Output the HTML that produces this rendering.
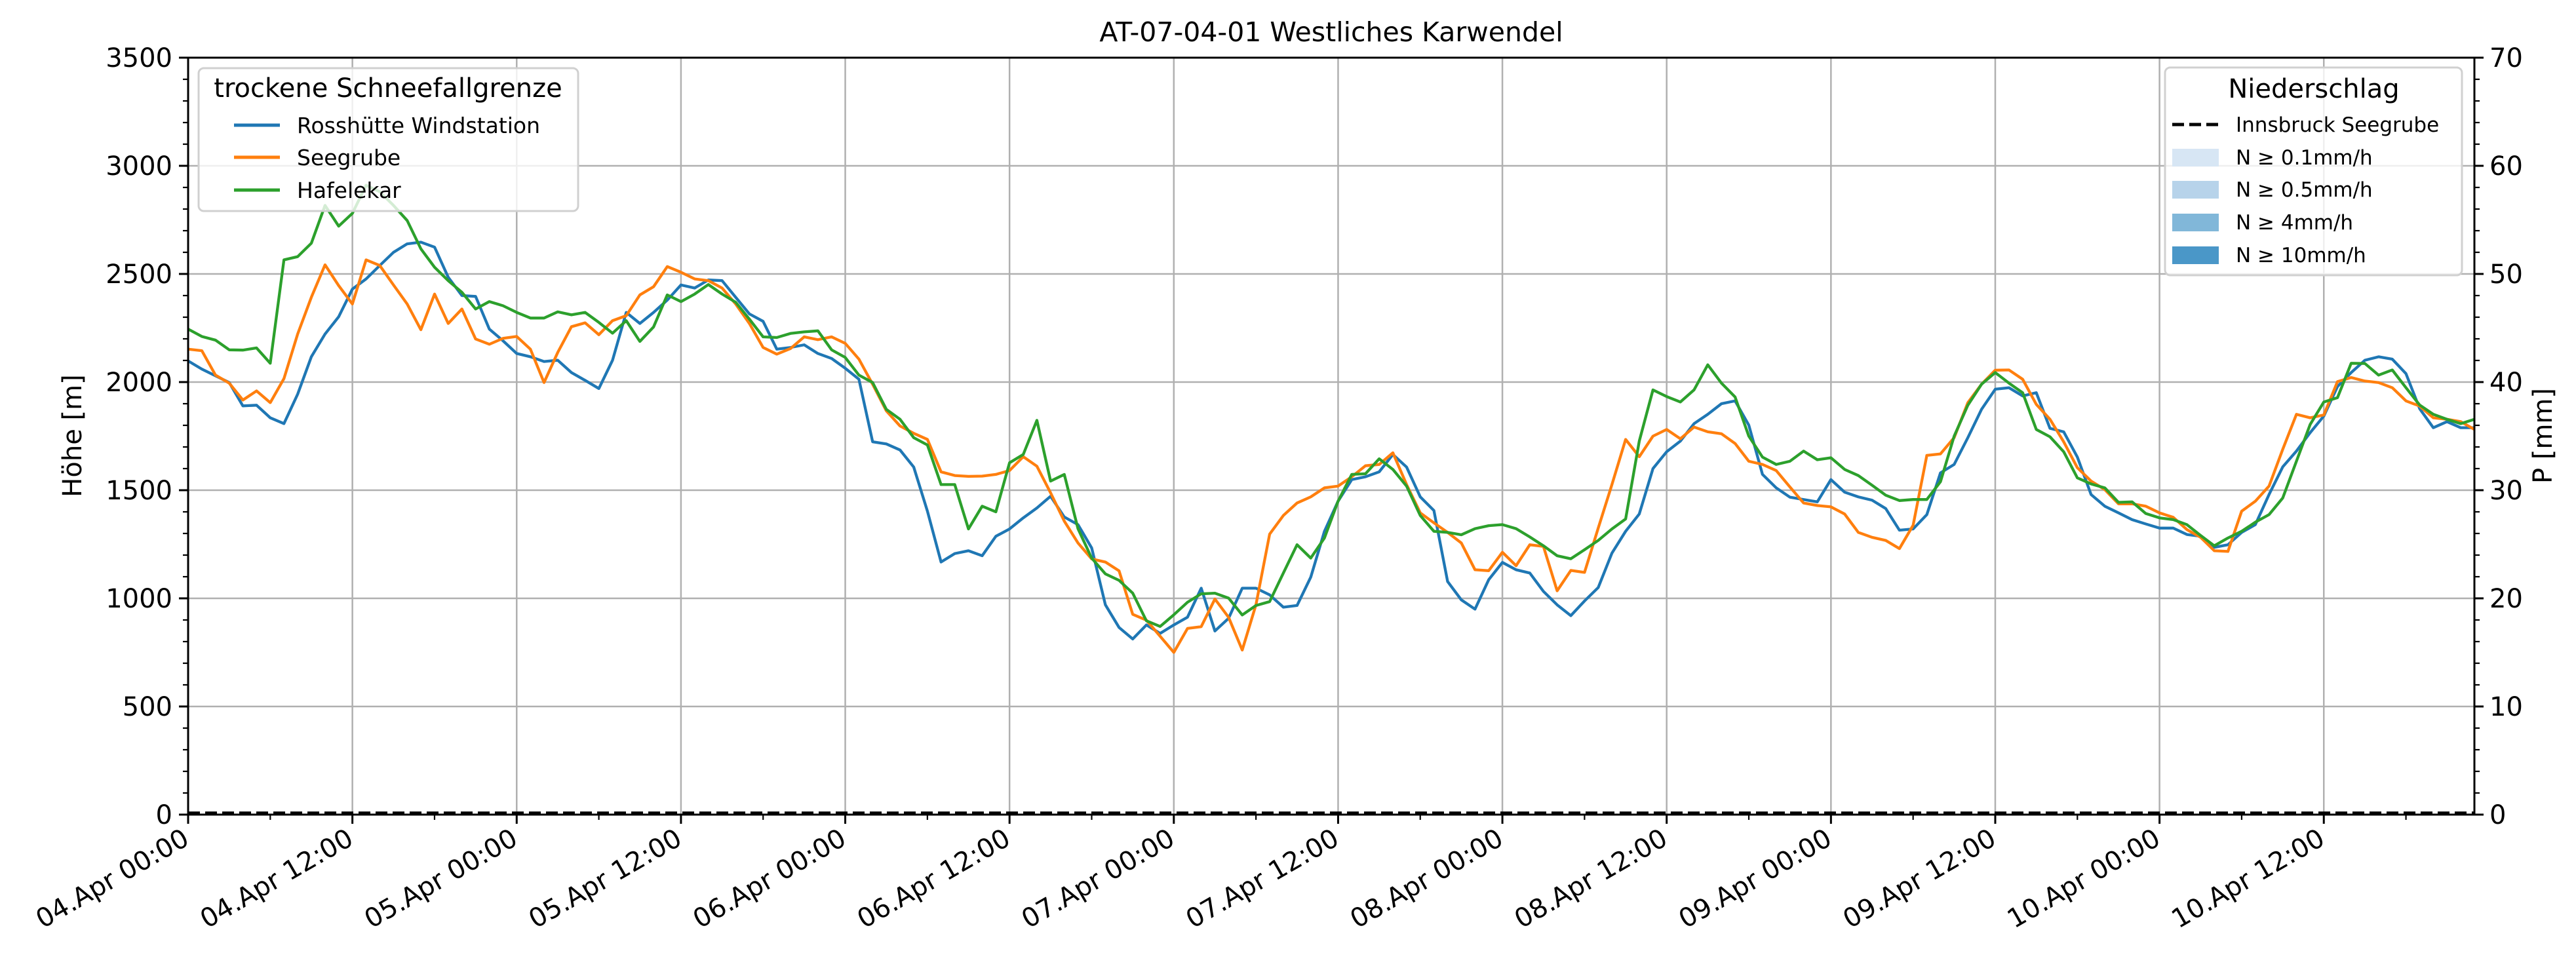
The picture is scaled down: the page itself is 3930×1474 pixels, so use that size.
<!DOCTYPE html>
<html><head><meta charset="utf-8"><style>
html,body{margin:0;padding:0;background:#fff;}
svg{display:block;font-family:"DejaVu Sans","Liberation Sans",sans-serif;}
</style></head><body>
<svg id="chart" width="3930" height="1474" viewBox="0 0 3930 1474" xmlns="http://www.w3.org/2000/svg">
<rect width="3930" height="1474" fill="#fff"/>
<g id="grid"></g>
<g id="series"></g>
<g id="axes"></g>
<text x="2031" y="63" font-size="41" text-anchor="middle">AT-07-04-01 Westliches Karwendel</text>
<text transform="translate(124,665) rotate(-90)" font-size="40" text-anchor="middle">Höhe [m]</text>
<text transform="translate(3893,665) rotate(-90)" font-size="40" text-anchor="middle">P [mm]</text>
<g>
<rect x="303" y="104" width="579" height="218" rx="8" fill="#fff" fill-opacity="0.8" stroke="#d0d0d0" stroke-width="3"/>
<text x="592" y="148" font-size="40" text-anchor="middle">trockene Schneefallgrenze</text>
<g><line x1="357" y1="191" x2="427" y2="191" stroke="#1f77b4" stroke-width="5"/><text x="453" y="203" font-size="33">Rosshütte Windstation</text></g>
<g><line x1="357" y1="240" x2="427" y2="240" stroke="#ff7f0e" stroke-width="5"/><text x="453" y="252" font-size="33">Seegrube</text></g>
<g><line x1="357" y1="290" x2="427" y2="290" stroke="#2ca02c" stroke-width="5"/><text x="453" y="302" font-size="33">Hafelekar</text></g>
</g>
<g>
<rect x="3303" y="103" width="453" height="317" rx="8" fill="#fff" fill-opacity="0.8" stroke="#d0d0d0" stroke-width="3"/>
<text x="3530" y="149" font-size="40" text-anchor="middle">Niederschlag</text>
<g><line x1="3314" y1="190" x2="3384" y2="190" stroke="#000" stroke-width="5" stroke-dasharray="18,8"/><text x="3411" y="201" font-size="31">Innsbruck Seegrube</text></g>
<g><rect x="3314" y="227" width="71" height="27" fill="#d7e6f4"/><text x="3411" y="251" font-size="31">N ≥ 0.1mm/h</text></g>
<g><rect x="3314" y="276" width="71" height="27" fill="#b7d3ea"/><text x="3411" y="300" font-size="31">N ≥ 0.5mm/h</text></g>
<g><rect x="3314" y="326" width="71" height="27" fill="#81b7d9"/><text x="3411" y="350" font-size="31">N ≥ 4mm/h</text></g>
<g><rect x="3314" y="376" width="71" height="27" fill="#4a97c8"/><text x="3411" y="400" font-size="31">N ≥ 10mm/h</text></g>
</g>
</svg>
<script>
const rosshuette = [2098,2060,2029,1998,1890,1893,1835,1808,1944,2117,
2222,2302,2430,2477,2539,2600,2639,2647,2624,2485,
2400,2396,2245,2191,2132,2117,2095,2101,2044,2008,
1970,2101,2322,2271,2322,2379,2449,2435,2472,2469,
2392,2315,2281,2152,2160,2172,2132,2109,2064,2013,
1724,1714,1686,1607,1403,1168,1207,1220,1197,1287,
1321,1372,1418,1472,1376,1341,1233,970,865,812,
877,838,877,913,1047,849,908,1047,1047,1016,
959,967,1098,1310,1449,1549,1562,1585,1665,1607,
1469,1406,1078,993,950,1086,1166,1132,1117,1032,
970,920,988,1050,1209,1310,1390,1600,1678,1727,
1808,1851,1900,1913,1801,1573,1511,1468,1457,1446,
1549,1491,1469,1454,1415,1315,1321,1387,1580,1619,
1743,1874,1967,1974,1936,1951,1786,1770,1653,1480,
1426,1395,1364,1344,1325,1325,1295,1287,1236,1248,
1305,1341,1480,1608,1681,1766,1843,1979,2044,2101,
2117,2106,2039,1877,1789,1817,1789,1789];
const seegrube = [2152,2145,2032,1995,1917,1959,1905,2016,2222,2392,
2542,2446,2361,2565,2539,2449,2361,2242,2407,2271,
2338,2199,2175,2202,2211,2152,1998,2137,2256,2274,
2219,2284,2307,2403,2441,2534,2508,2477,2469,2435,
2361,2271,2160,2129,2155,2209,2196,2209,2179,2106,
1990,1867,1797,1763,1735,1585,1568,1564,1565,1573,
1591,1655,1611,1488,1357,1256,1182,1168,1127,926,
899,825,750,861,869,997,912,761,970,1297,
1383,1441,1469,1511,1519,1562,1613,1619,1673,1526,
1395,1349,1305,1256,1132,1128,1213,1151,1248,1240,
1035,1129,1120,1325,1526,1735,1655,1750,1781,1738,
1792,1770,1761,1716,1634,1619,1591,1515,1441,1429,
1423,1390,1305,1282,1268,1230,1338,1661,1668,1743,
1905,1990,2055,2056,2013,1897,1828,1724,1604,1542,
1503,1437,1437,1426,1395,1375,1318,1282,1220,1217,
1403,1449,1519,1689,1851,1835,1848,2002,2021,2005,
1998,1974,1913,1889,1835,1828,1817,1781];
const hafelekar = [2245,2211,2194,2149,2148,2158,2087,2565,2580,2642,
2817,2721,2780,2910,2880,2817,2747,2616,2531,2469,
2415,2338,2372,2353,2322,2296,2296,2325,2311,2322,
2276,2226,2284,2188,2255,2403,2372,2407,2451,2407,
2369,2291,2209,2206,2225,2232,2237,2149,2114,2032,
1998,1874,1828,1743,1709,1526,1526,1321,1426,1400,
1627,1665,1823,1542,1573,1322,1186,1113,1083,1024,
896,870,924,982,1021,1024,1001,923,967,985,
1117,1248,1186,1279,1449,1573,1576,1645,1596,1519,
1383,1310,1305,1294,1322,1336,1341,1322,1284,1243,
1197,1183,1225,1268,1321,1367,1727,1964,1933,1908,
1964,2080,1995,1931,1750,1653,1619,1634,1681,1641,
1650,1596,1568,1523,1477,1452,1457,1457,1539,1750,
1893,1990,2044,1995,1951,1781,1747,1678,1557,1529,
1511,1444,1446,1392,1372,1364,1341,1291,1243,1279,
1310,1352,1387,1464,1634,1804,1908,1928,2087,2086,
2032,2056,1974,1894,1851,1828,1808,1828];
const precipMM = new Array(168).fill(0.15);
const xTickLabels = ["04.Apr 00:00","04.Apr 12:00","05.Apr 00:00","05.Apr 12:00","06.Apr 00:00","06.Apr 12:00","07.Apr 00:00","07.Apr 12:00","08.Apr 00:00","08.Apr 12:00","09.Apr 00:00","09.Apr 12:00","10.Apr 00:00","10.Apr 12:00"];
const yTicks = [0,500,1000,1500,2000,2500,3000,3500];
const y2Ticks = [0,10,20,30,40,50,60,70];

const NS = "http://www.w3.org/2000/svg";
const L = 287, R = 3775, T = 88, B = 1243;
const XMAX = 167, YMAX = 3500, Y2MAX = 70;
const xs = h => L + (R - L) * h / XMAX;
const ys = v => B - (B - T) * v / YMAX;
const ys2 = v => B - (B - T) * v / Y2MAX;
function mk(tag, attrs, parent) { const e = document.createElementNS(NS, tag); for (const k in attrs) e.setAttribute(k, attrs[k]); parent.appendChild(e); return e; }
const grid = document.getElementById('grid'), axes = document.getElementById('axes'), ser = document.getElementById('series');

xTickLabels.forEach((lab, i) => {
  const x = xs(i * 12);
  const g = mk('line', {x1: x, x2: x, y1: T, y2: B, stroke: '#b0b0b0', 'stroke-width': 2.5}, grid);
  
  
});
yTicks.forEach(v => {
  const y = ys(v);
  const g = mk('line', {x1: L, x2: R, y1: y, y2: y, stroke: '#b0b0b0', 'stroke-width': 2.5}, grid);
  
  
});

const seriesDefs = [[rosshuette, '#1f77b4', 'line-rosshuette'], [seegrube, '#ff7f0e', 'line-seegrube'], [hafelekar, '#2ca02c', 'line-hafelekar']];
seriesDefs.forEach(([arr, col, name]) => {
  const p = mk('polyline', {points: arr.map((v, i) => xs(i).toFixed(1) + ',' + ys(v).toFixed(1)).join(' '), fill: 'none', stroke: col, 'stroke-width': 4.3, 'stroke-linejoin': 'round'}, ser);
  
  
});
const pl = mk('polyline', {points: precipMM.map((v, i) => xs(i).toFixed(1) + ',' + ys2(v).toFixed(1)).join(' '), fill: 'none', stroke: '#000', 'stroke-width': 4.5, 'stroke-dasharray': '18,8'}, ser);



const fr = mk('rect', {x: L, y: T, width: R - L, height: B - T, fill: 'none', stroke: '#000', 'stroke-width': 3}, axes);



for (let v = 0; v <= YMAX; v += 100) {
  const major = v % 500 === 0, y = ys(v);
  mk('line', {x1: L, x2: L - (major ? 14 : 8), y1: y, y2: y, stroke: '#000', 'stroke-width': major ? 3 : 2.2}, axes);
}
yTicks.forEach(v => {
  const t = mk('text', {x: L - 24, y: ys(v) + 14, 'font-size': 40, 'text-anchor': 'end'}, axes);
  t.textContent = v;
  
  
});
for (let v = 0; v <= Y2MAX; v += 2) {
  const major = v % 10 === 0, y = ys2(v);
  mk('line', {x1: R, x2: R + (major ? 14 : 8), y1: y, y2: y, stroke: '#000', 'stroke-width': major ? 3 : 2.2}, axes);
}
y2Ticks.forEach(v => {
  const t = mk('text', {x: R + 23, y: ys2(v) + 14, 'font-size': 40, 'text-anchor': 'start'}, axes);
  t.textContent = v;
  
  
});
for (let h = 0; h <= XMAX; h += 6) {
  const major = h % 12 === 0, x = xs(h);
  mk('line', {x1: x, x2: x, y1: B, y2: B + (major ? 14 : 8), stroke: '#000', 'stroke-width': major ? 3 : 2.2}, axes);
}
xTickLabels.forEach((lab, i) => {
  const x = xs(i * 12) + 4, y = B + 44;
  const t = mk('text', {x: x, y: y, 'font-size': 40, 'text-anchor': 'end', transform: `rotate(-30 ${x} ${y})`}, axes);
  t.textContent = lab;
  
  
});
</script>
</body></html>
